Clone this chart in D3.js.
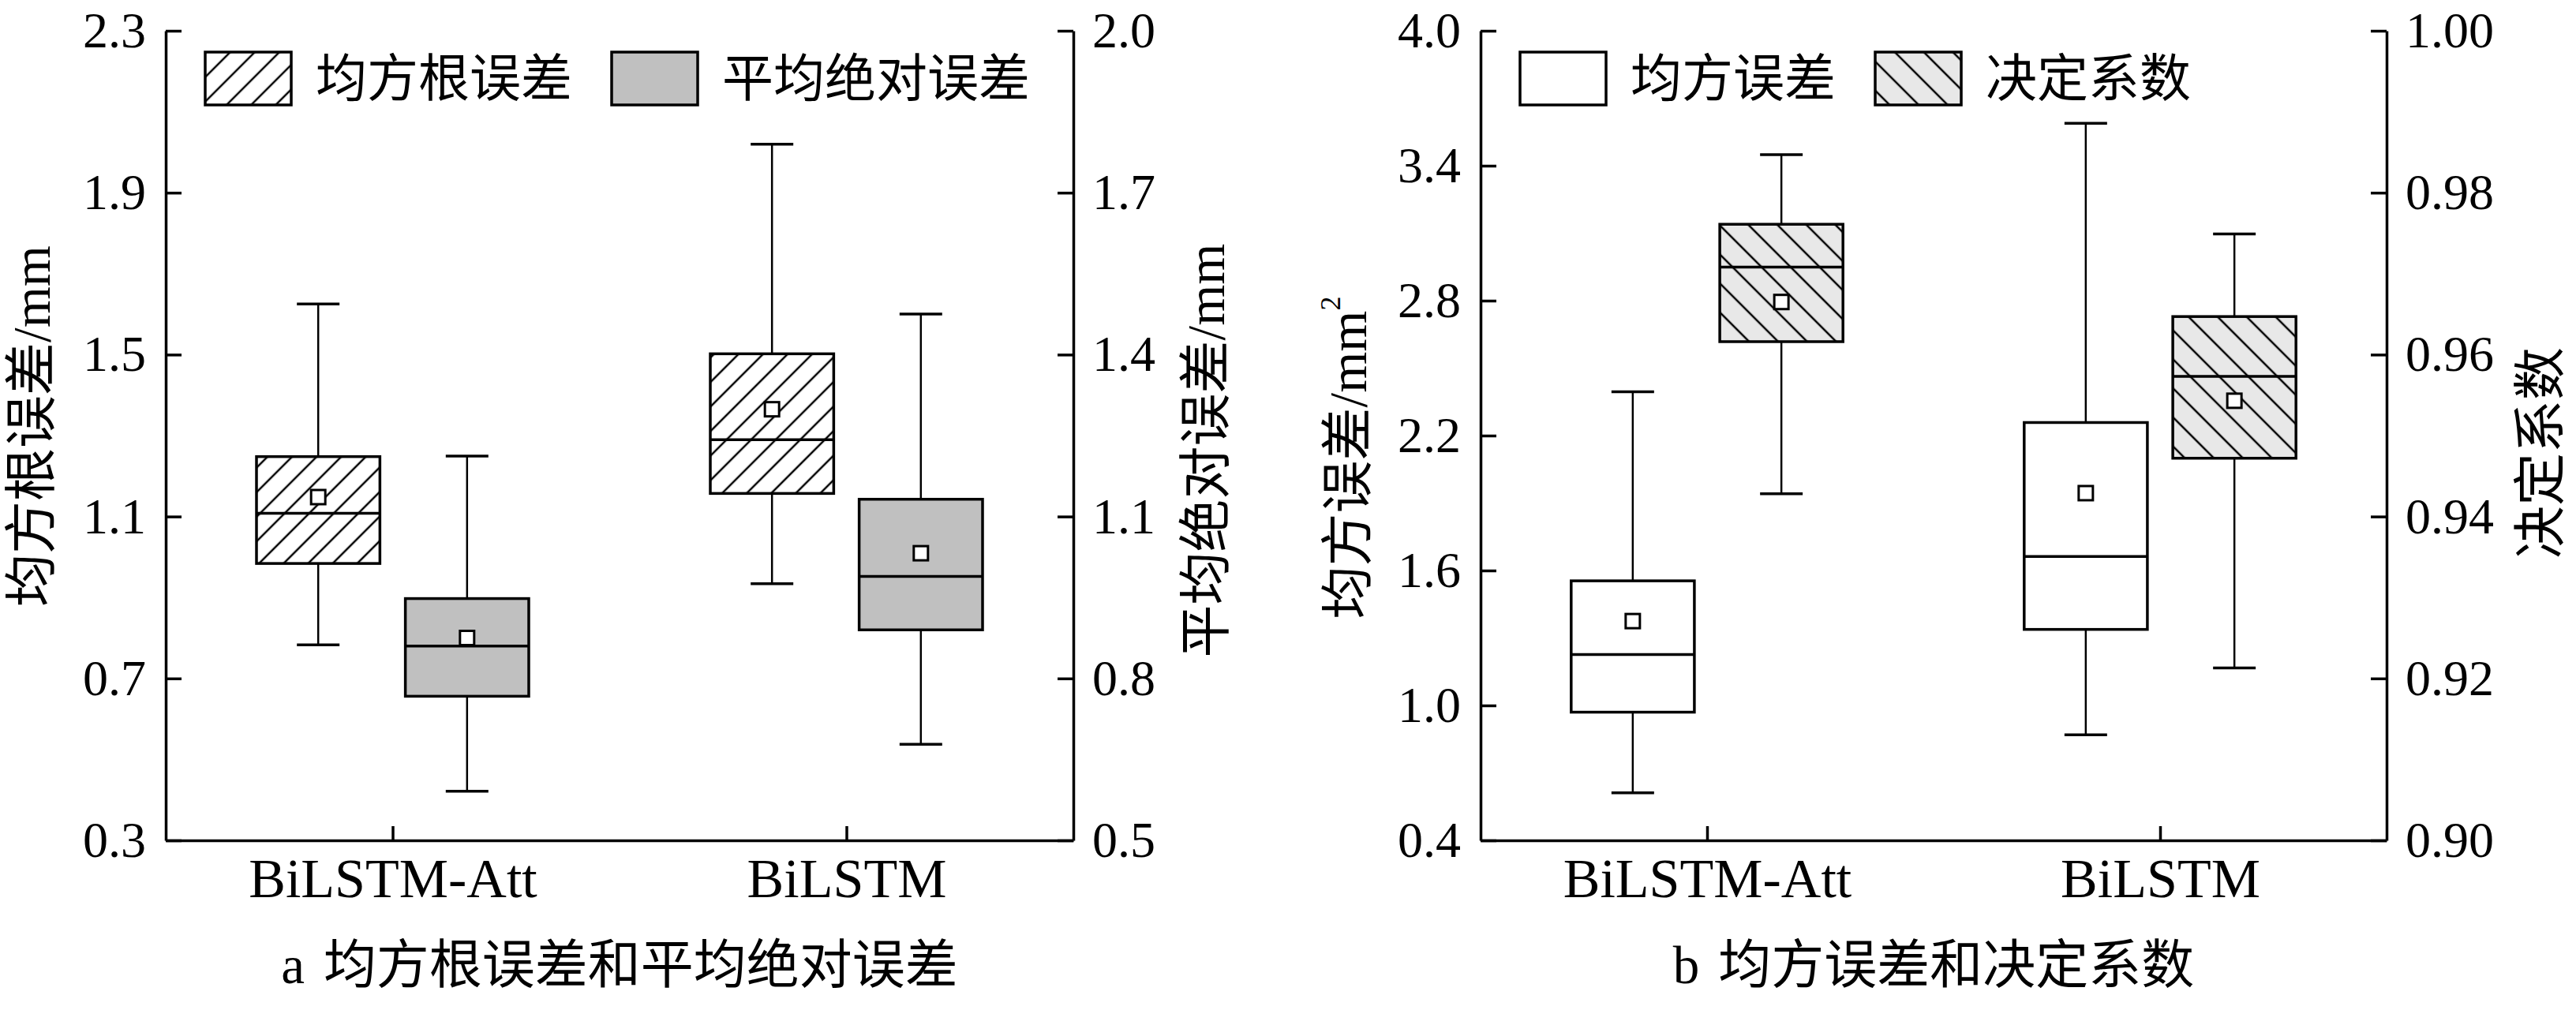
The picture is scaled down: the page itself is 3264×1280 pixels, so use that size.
<!DOCTYPE html>
<html>
<head>
<meta charset="utf-8">
<script src="https://cdn.jsdelivr.net/npm/d3@7"></script>
<style>
  body { margin: 0; background: #fff; }
</style>
</head>
<body>
<div id="chart"></div>
<script>
// categories and tick values
const categories = ["BiLSTM-Att", "BiLSTM"];
const rmseTicks = [0.3, 0.7, 1.1, 1.5, 1.9, 2.3];
const maeTicks = [0.5, 0.8, 1.1, 1.4, 1.7, 2.0];
const mseTicks = [0.4, 1.0, 1.6, 2.2, 2.8, 3.4, 4.0];
const r2Ticks = [0.90, 0.92, 0.94, 0.96, 0.98, 1.00];

// box stats per category: [min, q1, median, q3, max]
const rmseBoxes = [[0.783, 0.984, 1.108, 1.248, 1.625], [0.934, 1.157, 1.290, 1.502, 2.020]];
const rmseMeans = [1.148, 1.365];
const maeBoxes = [[0.591, 0.767, 0.860, 0.948, 1.212], [0.678, 0.890, 0.989, 1.132, 1.475]];
const maeMeans = [0.875, 1.032];
const mseBoxes = [[0.611, 0.970, 1.226, 1.554, 2.395], [0.869, 1.338, 1.662, 2.258, 3.589]];
const mseMeans = [1.375, 1.944];
const r2Boxes = [[0.9428, 0.9616, 0.9708, 0.9761, 0.9847], [0.9213, 0.9472, 0.9573, 0.9647, 0.9749]];
const r2Means = [0.9665, 0.9543];

const W = 3264, H = 1280;
const TOP = 39, BOTTOM = 1065;
const FONT = "'Liberation Serif', 'Noto Sans CJK SC', serif";

const svg = d3.select("#chart").append("svg")
    .attr("width", W)
    .attr("height", H)
    .style("background", "#fff");

const defs = svg.append("defs");

// hatch patterns
function hatch(id, angle, gap, bg) {
    const p = defs.append("pattern")
        .attr("id", id)
        .attr("patternUnits", "userSpaceOnUse")
        .attr("width", gap)
        .attr("height", gap)
        .attr("patternTransform", `rotate(${angle})`);
    p.append("rect").attr("width", gap).attr("height", gap).attr("fill", bg);
    p.append("line")
        .attr("x1", gap / 2).attr("y1", -1)
        .attr("x2", gap / 2).attr("y2", gap + 1)
        .attr("stroke", "#000").attr("stroke-width", 2.5);
}
hatch("fwd", 45, 22, "#fff");
hatch("bwd", -45, 26, "#e8e8e8");

const panels = [
    {
        x0: 210, x1: 1360,
        left: { ticks: rmseTicks, fmt: d3.format(".1f"), boxes: rmseBoxes, means: rmseMeans, fill: "url(#fwd)", name: "均方根误差" },
        right: { ticks: maeTicks, fmt: d3.format(".1f"), boxes: maeBoxes, means: maeMeans, fill: "#c0c0c0", name: "平均绝对误差" },
        leftTitle: { text: "均方根误差/mm", x: 40, y: 540 },
        rightTitle: { text: "平均绝对误差/mm", x: 1528, y: 571 },
        caption: ["a", "均方根误差和平均绝对误差"]
    },
    {
        x0: 1876, x1: 3024,
        left: { ticks: mseTicks, fmt: d3.format(".1f"), boxes: mseBoxes, means: mseMeans, fill: "#fff", name: "均方误差" },
        right: { ticks: r2Ticks, fmt: d3.format(".2f"), boxes: r2Boxes, means: r2Means, fill: "url(#bwd)", name: "决定系数" },
        leftTitle: { text: "均方误差/mm", sup: "2", x: 1708, y: 580 },
        rightTitle: { text: "决定系数", x: 3219, y: 574 },
        caption: ["b", "均方误差和决定系数"]
    }
];

panels.forEach(drawPanel);

function styleAxis(g, size) {
    g.attr("font-family", FONT).attr("font-size", size);
    g.selectAll("path, line").attr("stroke", "#000").attr("stroke-width", 3.5);
    g.selectAll("text").attr("fill", "#000");
}

function drawPanel(p) {
    const g = svg.append("g");
    const span = p.x1 - p.x0;

    const xScale = d3.scalePoint().domain(categories).range([p.x0, p.x1]).padding(0.5);
    const inner = d3.scaleBand().domain([0, 1]).range([-0.15 * span, 0.15 * span]).paddingInner(0.171);
    const bw = inner.bandwidth();

    const sides = [p.left, p.right];
    sides.forEach(s => {
        s.scale = d3.scaleLinear()
            .domain([s.ticks[0], s.ticks[s.ticks.length - 1]])
            .range([BOTTOM, TOP]);
    });

    // boxes
    sides.forEach((s, si) => {
        const y = s.scale;
        const grp = g.append("g");
        const items = categories.map((c, i) => ({ c, b: s.boxes[i], m: s.means[i], cx: xScale(c) + inner(si) + bw / 2 }));

        // whiskers
        grp.selectAll("line.wu").data(items).join("line")
            .attr("x1", d => d.cx).attr("x2", d => d.cx)
            .attr("y1", d => y(d.b[4])).attr("y2", d => y(d.b[3]))
            .attr("stroke", "#000").attr("stroke-width", 2.5);
        grp.selectAll("line.wl").data(items).join("line")
            .attr("x1", d => d.cx).attr("x2", d => d.cx)
            .attr("y1", d => y(d.b[1])).attr("y2", d => y(d.b[0]))
            .attr("stroke", "#000").attr("stroke-width", 2.5);
        [0, 4].forEach(k => {
            grp.selectAll(null).data(items).join("line")
                .attr("x1", d => d.cx - 27).attr("x2", d => d.cx + 27)
                .attr("y1", d => y(d.b[k])).attr("y2", d => y(d.b[k]))
                .attr("stroke", "#000").attr("stroke-width", 3.5);
        });

        // box
        grp.selectAll("rect.box").data(items).join("rect")
            .attr("class", "box")
            .attr("x", d => d.cx - bw / 2)
            .attr("width", bw)
            .attr("y", d => y(d.b[3]))
            .attr("height", d => y(d.b[1]) - y(d.b[3]))
            .attr("fill", s.fill)
            .attr("stroke", "#000").attr("stroke-width", 3.5);

        // median
        grp.selectAll("line.med").data(items).join("line")
            .attr("x1", d => d.cx - bw / 2).attr("x2", d => d.cx + bw / 2)
            .attr("y1", d => y(d.b[2])).attr("y2", d => y(d.b[2]))
            .attr("stroke", "#000").attr("stroke-width", 3.5);

        // mean
        grp.selectAll("rect.mean").data(items).join("rect")
            .attr("x", d => d.cx - 9).attr("y", d => y(d.m) - 9)
            .attr("width", 18).attr("height", 18)
            .attr("fill", "#fff")
            .attr("stroke", "#000").attr("stroke-width", 3);
    });

    // axes
    const axL = g.append("g").attr("transform", `translate(${p.x0},0)`)
        .call(d3.axisLeft(p.left.scale).tickValues(p.left.ticks).tickFormat(p.left.fmt)
            .tickSize(-20).tickSizeOuter(0).tickPadding(25));
    styleAxis(axL, 64);

    const axR = g.append("g").attr("transform", `translate(${p.x1},0)`)
        .call(d3.axisRight(p.right.scale).tickValues(p.right.ticks).tickFormat(p.right.fmt)
            .tickSize(-20).tickSizeOuter(0).tickPadding(24));
    styleAxis(axR, 64);

    const axB = g.append("g").attr("transform", `translate(0,${BOTTOM})`)
        .call(d3.axisBottom(xScale).tickSize(-18).tickSizeOuter(0).tickPadding(22));
    styleAxis(axB, 70);

    // axis titles
    [p.leftTitle, p.rightTitle].forEach(t => {
        const txt = g.append("text")
            .attr("transform", `translate(${t.x},${t.y}) rotate(-90)`)
            .attr("text-anchor", "middle")
            .attr("dominant-baseline", "central")
            .attr("font-family", FONT)
            .attr("font-size", 67)
            .text(t.text);
        if (t.sup) {
            txt.append("tspan").attr("dy", -22).attr("font-size", 36).text(t.sup);
        }
    });

    // caption
    const cap = g.append("text")
        .attr("x", (p.x0 + p.x1) / 2)
        .attr("y", 1223)
        .attr("text-anchor", "middle")
        .attr("dominant-baseline", "central")
        .attr("font-family", FONT)
        .attr("font-size", 67);
    cap.append("tspan").text(p.caption[0]);
    cap.append("tspan").attr("dx", 24).text(p.caption[1]);

    // legend
    const leg = g.append("g");
    let lx = p.x0 + 50;
    sides.forEach(s => {
        leg.append("rect")
            .attr("x", lx).attr("y", 66)
            .attr("width", 109).attr("height", 67)
            .attr("fill", s.fill)
            .attr("stroke", "#000").attr("stroke-width", 3.5);
        const t = leg.append("text")
            .attr("x", lx + 109 + 31).attr("y", 100)
            .attr("dominant-baseline", "central")
            .attr("font-family", FONT)
            .attr("font-size", 65)
            .text(s.name);
        lx = lx + 109 + 31 + t.node().getComputedTextLength() + 50;
    });
}
</script>
</body>
</html>
